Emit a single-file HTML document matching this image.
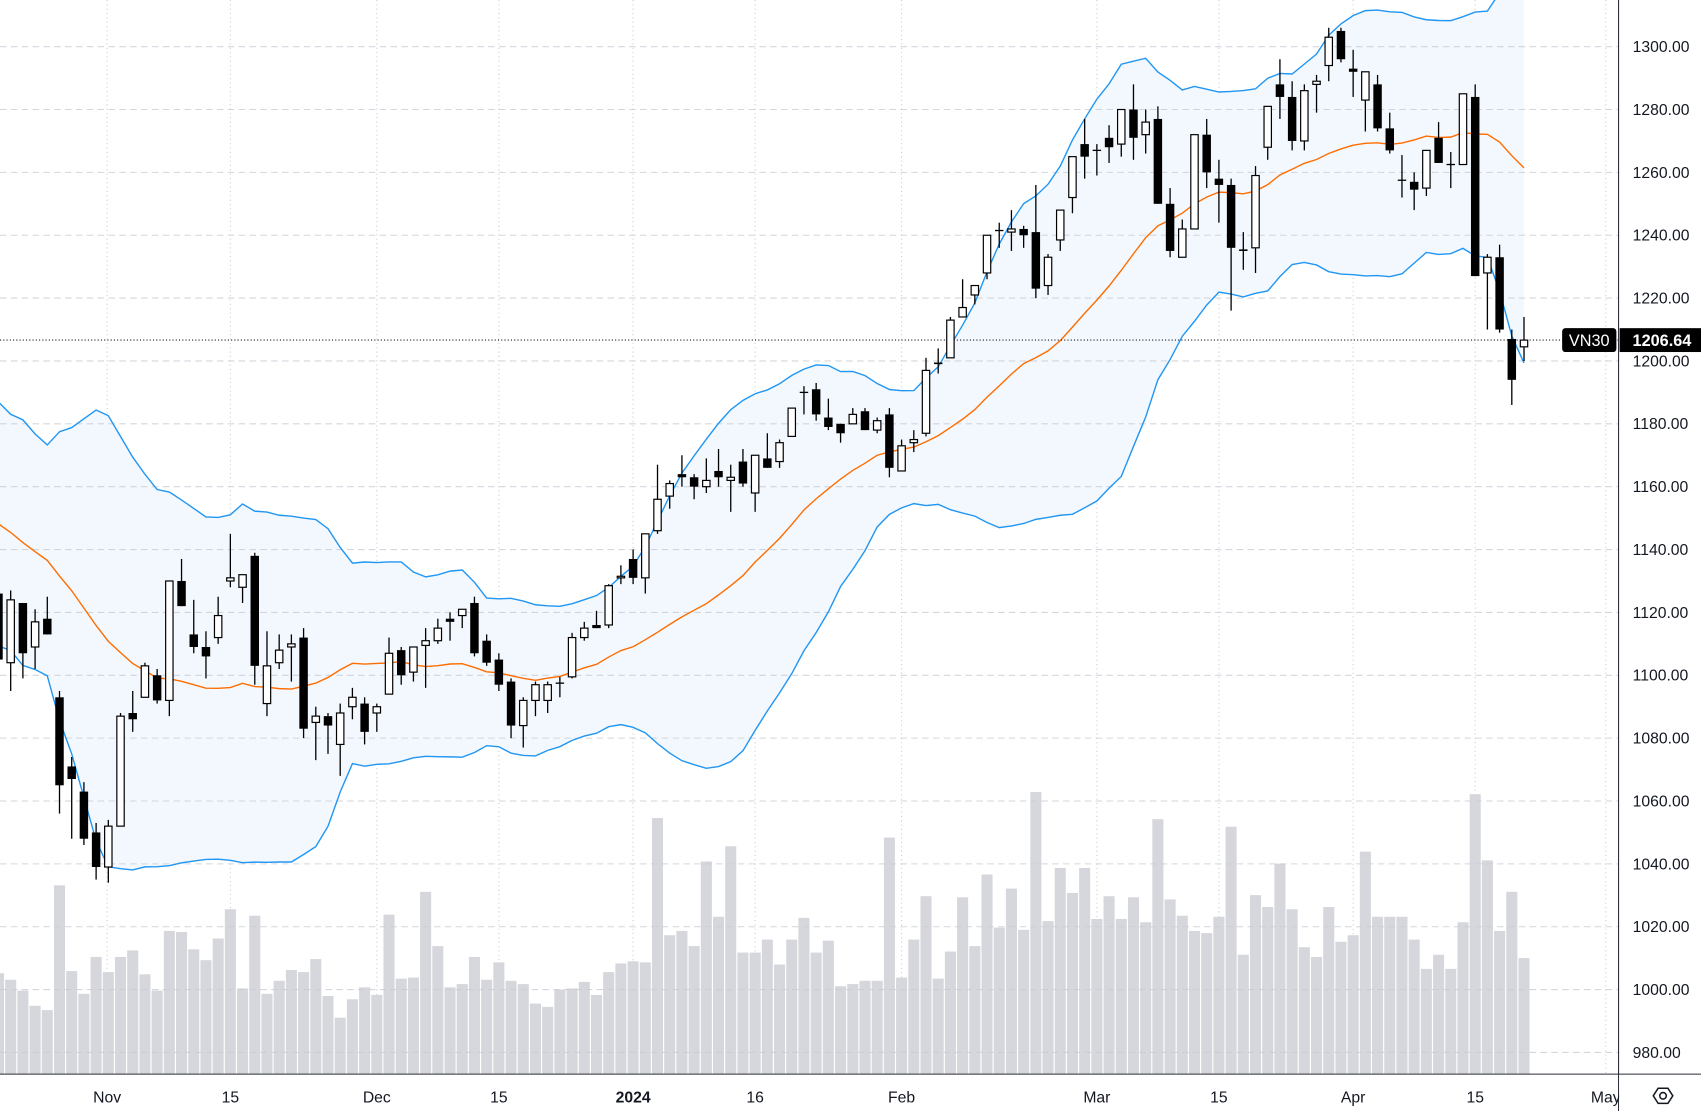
<!DOCTYPE html>
<html><head><meta charset="utf-8"><style>
html,body{margin:0;padding:0;background:#fff;width:1701px;height:1111px;overflow:hidden}
svg{display:block}
text{font-family:"Liberation Sans",sans-serif;fill:#131722}
</style></head><body>
<svg id="chart" width="1701" height="1111" viewBox="0 0 1568 1024" preserveAspectRatio="none" xmlns="http://www.w3.org/2000/svg">
<defs><clipPath id="plotClip"><rect x="0" y="0" width="1492" height="990"/></clipPath></defs>
<rect x="0" y="0" width="1568" height="1024" fill="#fff"/>
<g id="vgrid"></g>
<g id="bandFill" clip-path="url(#plotClip)"></g>
<g id="volumes"></g>
<g id="hgrid"></g>
<g id="bandLines" clip-path="url(#plotClip)"></g>
<g id="candles" clip-path="url(#plotClip)"></g>
<g id="axes"></g>
</svg>
<script>
const priorCloses=[1178,1172,1175,1168,1165,1160,1158,1150,1152,1160,1155,1148,1140,1135,1138,1130,1128,1120,1126];
const opens=[1126,1104,1123,1109,1118,1093,1071,1063,1050,1039,1052,1088,1093,1100,1092,1130,1113,1109,1112,1130,1128,1138,1091,1104,1109,1112,1085,1087,1078,1090,1091,1088,1094,1108,1101,1109.5,1111,1118,1119,1123,1111,1105,1098,1084,1092,1092,1097.5,1099.5,1112,1116,1116,1131,1137,1131,1146,1157,1164,1163,1160,1165,1162,1168,1158,1169,1168,1176,1190,1191,1182,1180,1180,1184,1178,1183,1165,1174,1177,1199.5,1201,1214,1221,1228,1241.5,1241,1242,1241,1224,1238.5,1252,1269,1267,1271,1269,1280,1272,1277,1250,1233,1242,1272,1258,1256,1235.5,1236,1268,1288,1284,1270,1288,1294,1305,1293,1283,1288,1274,1257.5,1257,1255,1271,1262.5,1262.5,1284,1228,1233,1207,1204.5];
const highs=[1127,1127,1123,1121,1125,1095,1074,1066,1053,1054,1088,1095,1104,1102,1130,1137,1124,1114,1125,1145,1132,1139,1114,1113,1113,1115,1090,1088,1091,1096,1093,1091,1112,1109,1109,1115,1118,1120,1121,1125,1113,1107,1099,1093,1098,1098,1099.5,1113.5,1117,1120.5,1129,1135,1140,1145,1167,1162,1170,1164,1169,1172,1167,1172,1170,1177,1175,1185,1192,1193,1188,1180,1185,1185,1182,1185,1175,1178,1201,1204,1214,1226,1224,1240,1244,1248,1243,1256,1234,1248,1265,1277,1269,1275,1280,1288,1280,1281,1255,1245,1272,1277,1264,1258,1241,1262,1281,1296,1289,1288,1291,1306,1306,1299,1292,1291,1279,1265.5,1260,1267,1276,1266.5,1285,1288,1234,1237,1210,1214];
const lows=[1095,1095,1099,1102,1113,1056,1048,1046,1035,1034,1052,1082,1093,1091,1087,1122,1107,1099,1110,1128,1123,1097,1087,1102,1098,1080,1073,1075,1068,1086,1078,1082,1094,1097,1098,1096,1110,1111,1115,1106,1103,1095,1080,1077,1087,1088,1093,1099,1111,1115,1115,1129,1129,1126,1145,1153,1160,1156,1158,1160,1152,1160,1152,1166,1166,1176,1183,1181,1178,1174,1180,1178,1177,1163,1165,1171,1176,1196,1201,1214,1218,1226,1236,1235,1236,1220,1221,1235,1247,1258,1259,1263,1265,1264,1266,1250,1233,1233,1242,1255,1244,1216,1229,1228,1264,1277,1267,1267,1279,1289,1295,1284,1273,1273,1266,1252,1248,1252.5,1263,1255,1262.5,1227,1210,1209,1186,1200];
const closes=[1105,1124,1107,1117,1113,1065,1067,1048,1039,1052,1087,1086,1103,1092,1130,1122,1109,1106,1119,1131,1132,1103,1103,1108,1110,1083,1087,1084,1088,1093,1082,1090,1107,1100,1109,1111,1115,1117,1121,1107,1104,1097,1084,1092,1097,1097,1097.5,1112,1115,1115,1128.5,1131.5,1131,1145,1156,1161,1163,1160,1162,1163,1163,1161,1170,1166,1174,1185,1190,1183,1179,1177,1183,1178,1181,1166,1173,1175,1197,1199,1213,1217,1224,1240,1241.5,1242,1240,1223,1233,1248,1265,1265,1267,1268,1280,1271,1276,1250,1235,1242,1272,1260,1256,1236,1235,1259,1281,1284,1270,1286,1289,1303,1296,1292,1292,1274,1267,1257.5,1254.5,1267,1263,1262.5,1285,1227,1233,1210,1194,1206.64];
const volumes=[93,87,77,63,59,174,95,74,108,94,108,114,92,77,132,131,115,105,125,152,79,146,74,86,96,94,106,72,52,69,80,73,147,88,89,168,118,80,83,108,87,103,86,83,65,62,78,79,85,73,94,102,104,103,236,128,132,118,196,145,210,112,112,124,101,124,144,112,123,81,83,86,86,218,89,124,164,88,113,163,118,184,135,171,133,260,141,190,167,190,143,164,143,163,140,235,161,146,132,130,145,228,110,165,154,194,152,117,108,154,122,128,205,145,145,145,124,97,110,97,140,258,197,132,168,107];
const priceTicks=[1300,1280,1260,1240,1220,1200,1180,1160,1140,1120,1100,1080,1060,1040,1020,1000,980];
const timeLabels=["Nov","15","Dec","15","2024","16","Feb","Mar","15","Apr","15","May"];
const timeLabelPos=[8.9,19,31,41,52,62,74,90,100,111,121,131.7];
const lastPrice=1206.64;

const NS="http://www.w3.org/2000/svg";
const PLOT_R=1492, PLOT_B=990;
function xs(i){return -1.4+i*11.25;}
function ys(p){return 43+(1300-p)*2.897;}
function vs(v){return PLOT_B-v;}
function mk(tag,attrs,parent){const e=document.createElementNS(NS,tag);for(const k in attrs)e.setAttribute(k,attrs[k]);parent.appendChild(e);return e;}
const g=id=>document.getElementById(id);

timeLabelPos.forEach((t,k)=>{
  const l=mk('line',{x1:xs(t),x2:xs(t),y1:0,y2:PLOT_B,stroke:'#c9ccd3','stroke-width':1,'stroke-dasharray':'1 3'},g('vgrid'));
  
  
});
volumes.forEach((v,i)=>{
  const r=mk('rect',{x:xs(i)-5.1,y:vs(v),width:10.2,height:v,fill:'#d6d7dc'},g('volumes'));
  
  
});
priceTicks.forEach(p=>{
  const l=mk('line',{x1:0,x2:PLOT_R,y1:ys(p),y2:ys(p),stroke:'#c9ccd6','stroke-width':1,'stroke-dasharray':'6 4',opacity:0.8},g('hgrid'));
  
  
});
const all=priorCloses.concat(closes);
const mid=[],up=[],lo=[];
for(let i=0;i<closes.length;i++){
  const w=all.slice(i,i+20);
  const m=w.reduce((a,b)=>a+b,0)/20;
  const sd=Math.sqrt(w.reduce((a,b)=>a+(b-m)*(b-m),0)/20);
  mid.push(m);up.push(m+2*sd);lo.push(m-2*sd);
}
const pts=a=>a.map((v,i)=>xs(i).toFixed(1)+','+ys(v).toFixed(1));
const fill=mk('polygon',{points:pts(up).concat(pts(lo).reverse()).join(' '),fill:'#f2f8fd'},g('bandFill'));


const upL=mk('polyline',{points:pts(up).join(' '),fill:'none',stroke:'#2196f3','stroke-width':1.3},g('bandLines'));


const loL=mk('polyline',{points:pts(lo).join(' '),fill:'none',stroke:'#2196f3','stroke-width':1.3},g('bandLines'));


const midL=mk('polyline',{points:pts(mid).join(' '),fill:'none',stroke:'#ff6d00','stroke-width':1.3},g('bandLines'));


const lp=mk('line',{x1:0,x2:PLOT_R,y1:ys(lastPrice),y2:ys(lastPrice),stroke:'#131722','stroke-width':1,'stroke-dasharray':'1 2'},g('bandLines'));


closes.forEach((c,i)=>{
  const o=opens[i],x=xs(i);
  const grp=mk('g',{},g('candles'));
  
  
  mk('line',{x1:x,x2:x,y1:ys(highs[i]),y2:ys(lows[i]),stroke:'#000','stroke-width':1.2},grp);
  const top=ys(Math.max(o,c)),bot=ys(Math.min(o,c));
  const h=Math.max(bot-top,1.2);
  if(c>o){
    mk('rect',{x:x-3.4,y:top,width:6.8,height:h,fill:'#fff',stroke:'#000','stroke-width':1.1},grp);
  }else{
    mk('rect',{x:x-3.9,y:top-(c===o?0.6:0),width:7.8,height:h,fill:'#000'},grp);
  }
});
const ax=g('axes');
mk('line',{x1:PLOT_R,x2:PLOT_R,y1:0,y2:1024,stroke:'#2a2e39','stroke-width':1},ax);
mk('line',{x1:0,x2:1568,y1:PLOT_B,y2:PLOT_B,stroke:'#2a2e39','stroke-width':1},ax);
priceTicks.forEach(p=>{
  const t=mk('text',{x:1505,y:ys(p)+5,'font-size':14.5},ax);
  t.textContent=p.toFixed(2);
  
  
});
timeLabels.forEach((s,k)=>{
  const t=mk('text',{x:xs(timeLabelPos[k]),y:1016,'font-size':14.5,'text-anchor':'middle','font-weight':s==='2024'?'bold':'normal'},ax);
  t.textContent=s;
  
  
});
mk('rect',{x:PLOT_R+0.5,y:PLOT_B+1,width:76,height:34,fill:'#fff'},ax);
const yl=ys(lastPrice);
const b1=mk('rect',{x:1440,y:yl-11,width:50,height:22,rx:3,fill:'#000'},ax);


const t1=mk('text',{x:1465,y:yl+5.5,'font-size':15,'text-anchor':'middle',style:'fill:#fff'},ax);t1.textContent='VN30';
const b2=mk('rect',{x:1493,y:yl-11,width:75,height:22,fill:'#000'},ax);


const t2=mk('text',{x:1532,y:yl+5.5,'font-size':15,'text-anchor':'middle',style:'fill:#fff;font-weight:bold'},ax);t2.textContent=lastPrice.toFixed(2);
const gear=mk('g',{},ax);


mk('polygon',{points:'1524,1010 1528.5,1003 1537.5,1003 1542,1010 1537.5,1017 1528.5,1017',fill:'none',stroke:'#131722','stroke-width':1.4},gear);
mk('circle',{cx:1533,cy:1010,r:3,fill:'none',stroke:'#131722','stroke-width':1.4},gear);
</script>
</body></html>
